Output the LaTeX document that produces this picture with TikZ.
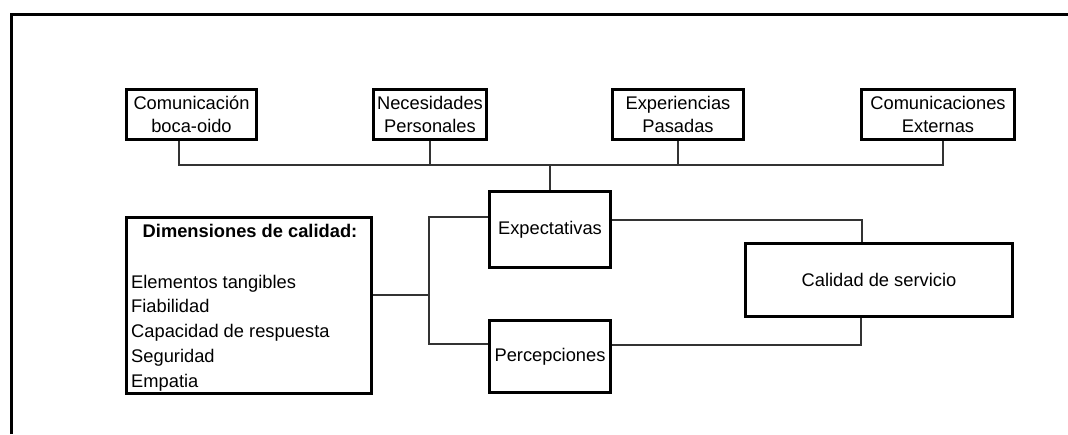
\documentclass[tikz,border=0pt]{standalone}
\usepackage{fontspec}
\setmainfont{Liberation Sans}
\begin{document}
\begin{tikzpicture}[x=1pt,y=-1pt,
  box/.style={draw=black, line width=2.6pt, inner sep=0pt, align=center,
    font=\fontsize{18.3}{22.3}\selectfont},
  conn/.style={draw=black!80, line width=1.4pt},
  txt/.style={inner sep=0pt, font=\fontsize{18.3}{22.3}\selectfont},
  frame/.style={draw=black, line width=3pt}]
\useasboundingbox (0,0) rectangle (1068,434);
\draw[frame] (11,434) -- (11,14) -- (1068,14);
% top boxes
\node[box, minimum width=130.5pt, minimum height=49.5pt] (b1) at (191.5,114.5) {Comunicación\\boca-oido};
\node[box, minimum width=113.5pt, minimum height=49.5pt] (b2) at (430,114.5) {Necesidades\\Personales};
\node[box, minimum width=131.5pt, minimum height=49.5pt] (b3) at (678,114.5) {Experiencias\\Pasadas};
\node[box, minimum width=153.5pt, minimum height=49.5pt] (b4) at (938,114.5) {Comunicaciones\\Externas};
% middle boxes
\node[box, minimum width=121.5pt, minimum height=76.5pt] (exp) at (550,229.5) {Expectativas};
\node[box, minimum width=121.5pt, minimum height=72.5pt] (perc) at (550,356.5) {Percepciones};
\node[box, minimum width=245.5pt, minimum height=176.5pt] (dim) at (249,305.5) {};
\node[box, minimum width=267.5pt, minimum height=73.5pt] (cal) at (879,280) {Calidad de servicio};
% dimension texts
\node[txt, anchor=base, font=\fontsize{18.3}{22.3}\selectfont\bfseries] (dimt) at (250,237) {Dimensiones de calidad:};
\foreach \t [count=\i] in {Elementos tangibles, Fiabilidad, Capacidad de respuesta, Seguridad, Empatia}
  \node[txt, anchor=base west] (l\i) at (131,{288+24.85*(\i-1)}) {\t};
% bus
\coordinate (busL) at (179,165);
\coordinate (busR) at (943,165);
\draw[conn] (b1.south -| busL) -- (busL) -- (busR) -- (b4.south -| busR);
\draw[conn] (b2.south) -- (b2.south |- busL);
\draw[conn] (b3.south) -- (b3.south |- busL);
\draw[conn] (exp.north) -- (exp.north |- busL);
% dimension connectors
\coordinate (jm) at (429,295);
\coordinate (jt) at (429,217);
\coordinate (jb) at (429,344);
\draw[conn] ([yshift=10.5pt]dim.east) -- (jm);
\draw[conn] (exp.west |- jt) -- (jt) -- (jb) -- (perc.west |- jb);
% to calidad
\coordinate (ct) at (862,220);
\coordinate (cb) at (861,345);
\draw[conn] (exp.east |- ct) -- (ct) -- (cal.north -| ct);
\draw[conn] (perc.east |- cb) -- (cb) -- (cal.south -| cb);
\end{tikzpicture}
\end{document}
